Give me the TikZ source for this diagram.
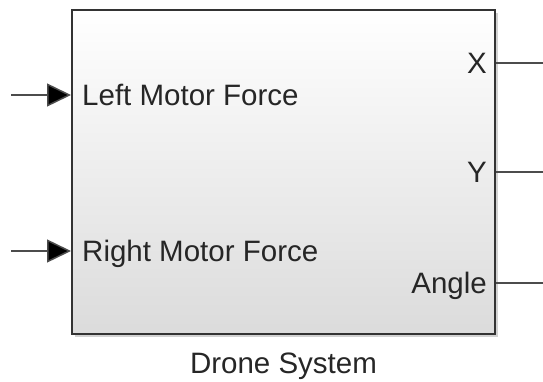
\documentclass[tikz,border=0pt]{standalone}
\usepackage{fontspec}
\setmainfont{Liberation Sans}
\usetikzlibrary{arrows.meta,shadows,positioning}
\begin{document}
\begin{tikzpicture}[x=1pt,y=-1pt,
  blockbox/.style={draw=black!80, line width=2pt, minimum width=423pt, minimum height=324pt,
    top color=white, bottom color=black!14, inner sep=0pt,
    drop shadow={shadow xshift=3pt, shadow yshift=-3pt, fill=black!35, opacity=0.5}},
  lbl/.style={font=\fontsize{29.5}{32}\selectfont, inner sep=0pt, text=black!85},
  sig/.style={draw=black!70, line width=1.5pt},
  inarrow/.style={sig, -{Triangle[length=24pt,width=23pt,fill=black]}}]
\useasboundingbox (0,0) rectangle (543,382);
\node[blockbox] (blk) at (283.5,172) {};
\coordinate (in1) at (11,95);
\coordinate (in2) at (11,251);
\coordinate (blkin1) at (blk.west |- in1);
\coordinate (blkin2) at (blk.west |- in2);
\coordinate (out1) at (543,63);
\coordinate (out2) at (543,172);
\coordinate (out3) at (543,283);
\coordinate (blkout1) at (blk.east |- out1);
\coordinate (blkout2) at (blk.east |- out2);
\coordinate (blkout3) at (blk.east |- out3);
\draw[inarrow] (in1) -- (blkin1);
\draw[inarrow] (in2) -- (blkin2);
\draw[sig] (blkout1) -- (out1);
\draw[sig] (blkout2) -- (out2);
\draw[sig] (blkout3) -- (out3);
\node[lbl, anchor=base west] (lmf) at ([xshift=11pt,yshift=-10.5pt]blkin1) {Left Motor Force};
\node[lbl, anchor=base west] (rmf) at ([xshift=11pt,yshift=-10pt]blkin2) {Right Motor Force};
\node[lbl, anchor=base east] (xl) at ([xshift=-9pt,yshift=-10.5pt]blkout1) {X};
\node[lbl, anchor=base east] (yl) at ([xshift=-9pt,yshift=-10.5pt]blkout2) {Y};
\node[lbl, anchor=base east] (al) at ([xshift=-9pt,yshift=-10.5pt]blkout3) {Angle};
\node[lbl, anchor=base] (title) at (283.5,373) {Drone System};
\end{tikzpicture}
\end{document}
